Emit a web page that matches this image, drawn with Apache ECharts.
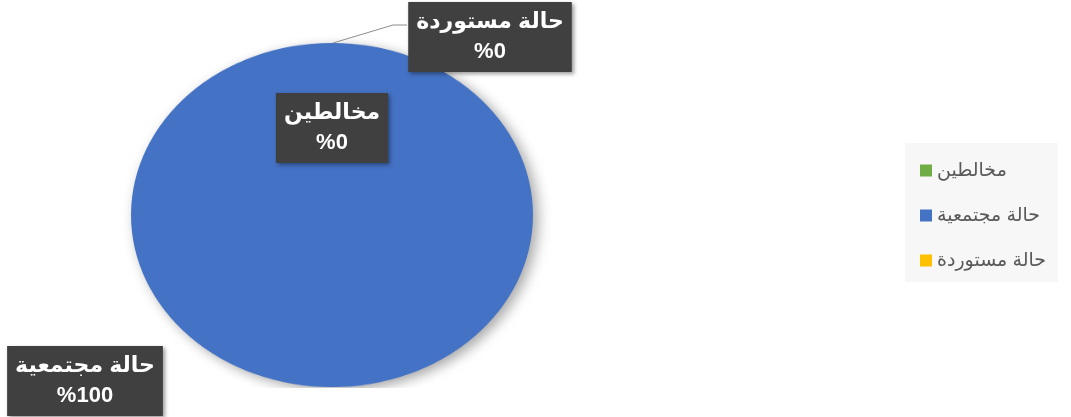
<!DOCTYPE html>
<html>
<head>
<meta charset="utf-8">
<script src="https://cdn.jsdelivr.net/npm/echarts@6/dist/echarts.min.js"></script>
<style>
  body { margin: 0; background: #fff; }
  #wrap { position: relative; width: 1071px; height: 417px; overflow: hidden; }
  #pie, #over { position: absolute; left: 0; top: 0; width: 1071px; height: 417px; }
  /* the excel pie is a bit flattened, so squash the pie layer only */
  #pie { transform: scaleY(0.856); transform-origin: 332px 215px; }
</style>
</head>
<body>
<div id="wrap">
  <div id="pie"></div>
  <div id="over"></div>
</div>
<script>
const names = ['مخالطين', 'حالة مجتمعية', 'حالة مستوردة'];
const values = [0, 100, 0];
const colors = ['#70AD47', '#4472C4', '#FFC000'];

// where the data label boxes sit (centre of each box)
const labelPos = [[332, 128], [85, 381], [490, 37]];
const font = 'Arial, "DejaVu Sans", sans-serif';

const pieChart = echarts.init(document.getElementById('pie'));
pieChart.setOption({
  animation: false,
  series: [
    {
      type: 'pie',
      center: [332, 215],
      radius: 201,
      startAngle: 90,
      silent: true,
      label: { show: false },
      labelLine: { show: false },
      itemStyle: {
        shadowBlur: 14,
        shadowOffsetX: 5,
        shadowOffsetY: 4,
        shadowColor: 'rgba(0,0,0,0.35)'
      },
      data: names.map((n, i) => ({ name: n, value: values[i], itemStyle: { color: colors[i] } }))
    }
  ]
});

const overChart = echarts.init(document.getElementById('over'));
overChart.setOption({
  animation: false,
  legend: {
    orient: 'vertical',
    left: 905,
    top: 143,
    padding: [18, 12, 12, 15],
    backgroundColor: '#f7f7f7',
    icon: 'rect',
    itemWidth: 12,
    itemHeight: 12,
    itemGap: 26,
    selectedMode: false,
    textStyle: { color: '#595959', fontSize: 19, fontFamily: font },
    data: names.map((n, i) => ({ name: n, itemStyle: { color: colors[i] } }))
  },
  series: [
    {
      type: 'pie',
      center: [332, 215],
      radius: 172,
      startAngle: 90,
      silent: true,
      avoidLabelOverlap: false,
      itemStyle: { color: 'rgba(0,0,0,0)' },
      label: {
        show: true,
        position: 'outside',
        formatter: p => p.name + '\n%' + Math.round(p.percent),
        color: '#fff',
        fontFamily: font,
        fontSize: 22,
        fontWeight: 'bold',
        lineHeight: 30,
        align: 'center',
        backgroundColor: '#404040',
        padding: [6, 8, 4, 8],
        shadowBlur: 4,
        shadowOffsetX: 2,
        shadowOffsetY: 2,
        shadowColor: 'rgba(0,0,0,0.4)'
      },
      labelLine: { show: true, lineStyle: { color: '#8c8c8c', width: 1 } },
      labelLayout: function (params) {
        const p = labelPos[params.dataIndex];
        const out = { x: p[0], y: p[1], align: 'center', verticalAlign: 'middle' };
        if (params.dataIndex === 2) {
          out.labelLinePoints = [[333, 43], [393, 25], [407, 25]];
        }
        return out;
      },
      data: names.map((n, i) => ({
        name: n,
        value: values[i],
        labelLine: { show: i === 2 }
      }))
    }
  ]
});
</script>
</body>
</html>
